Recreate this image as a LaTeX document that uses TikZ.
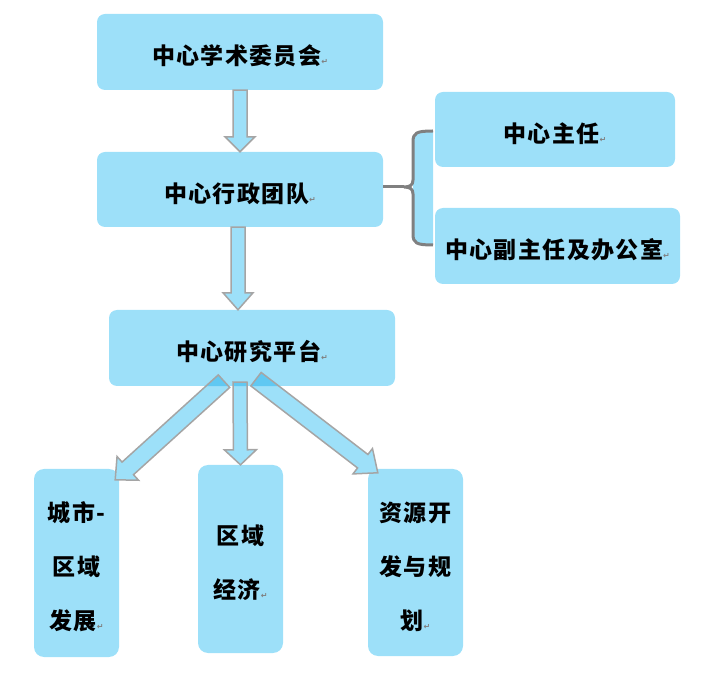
\documentclass[tikz,border=0pt]{standalone}
\usepackage{fontspec}
\usetikzlibrary{calc}
\newfontfamily\cjk{Noto Sans CJK SC}[LetterSpace=6]
\newfontfamily\dv{DejaVu Sans}
\definecolor{boxblue}{RGB}{157,224,249}
\definecolor{darkblue}{RGB}{96,200,242}
\definecolor{arrgray}{RGB}{165,165,165}
\definecolor{bracegray}{RGB}{128,128,128}
\newcommand\ret{{\dv\fontsize{8}{8}\selectfont\color{gray}↵}}
\newcommand\dn[1]{\raisebox{-4pt}[\height][\depth]{#1}}
\newcommand\defarrow[6]{%
 \coordinate (#1-s) at (#2);
 \coordinate (#1-t) at (#3);
 \coordinate (#1-h) at ($(#1-t)!#6!(#1-s)$);
 \coordinate (#1-1) at ($(#1-s)!#4!90:(#1-t)$);
 \coordinate (#1-2) at ($(#1-h)!#4!90:(#1-t)$);
 \coordinate (#1-3) at ($(#1-h)!#5!90:(#1-t)$);
 \coordinate (#1-4) at ($(#1-h)!#5!-90:(#1-t)$);
 \coordinate (#1-5) at ($(#1-h)!#4!-90:(#1-t)$);
 \coordinate (#1-6) at ($(#1-s)!#4!-90:(#1-t)$);
}
\newcommand\pathArrow[2]{\path[#2] (#1-1) -- (#1-2) -- (#1-3) -- (#1-t) -- (#1-4) -- (#1-5) -- (#1-6) -- cycle;}
\begin{document}
\begin{tikzpicture}[x=1pt,y=-1pt,
  box/.style={fill=boxblue, rounded corners=8pt, inner sep=0pt,
    font=\cjk\bfseries\fontsize{23}{23}\selectfont},
  vbox/.style={box, rounded corners=10pt, align=center,
    font=\cjk\bfseries\fontsize{23}{54}\selectfont},
  arrfill/.style={fill=boxblue},
  arrdark/.style={fill=darkblue},
  arrdraw/.style={draw=arrgray, line width=1.5pt, line join=miter}]
\path[use as bounding box] (0,0) rectangle (702,684);

% boxes
\node[box, minimum width=286pt, minimum height=76pt] (b1) at (240,52) {\dn{中心学术委员会\ret}};
\node[box, minimum width=286pt, minimum height=75pt] (b2) at (240,189.5) {\dn{中心行政团队\ret}};
\node[box, minimum width=286pt, minimum height=76pt] (b3) at (252,348) {\dn{中心研究平台\ret}};
\node[box, minimum width=240pt, minimum height=75pt] (r1) at (555,129.5) {\dn{中心主任\ret}};
\node[box, minimum width=245pt, minimum height=76pt] (r2) at (557.5,246) {\dn{中心副主任及办公室\ret}};
\node[vbox, minimum width=85pt, minimum height=188pt] (c1) at (76.5,563) {\dn{城市-}\\\dn{区域}\\\dn{发展\ret}};
\node[vbox, minimum width=85pt, minimum height=188pt] (c2) at (240.5,559) {\dn{区域}\\\dn{经济\ret}};
\node[vbox, minimum width=95pt, minimum height=187pt] (c3) at (415.5,562.5) {\dn{资源开}\\\dn{发与规}\\\dn{划\ret}};

% brace
\coordinate (br) at (404,187);
\fill[boxblue] (433,131) .. controls (416,131) and (413,133) .. (413,142) -- (413,234) .. controls (413,243) and (416,245) .. (433,245) -- cycle;
\draw[bracegray, line width=3pt] (b2.east |- br) -- (br);
\draw[bracegray, line width=3pt] (433,131) .. controls (416,131) and (413,133) .. (413,142) -- (413,180) .. controls (413,185) and (410,187) .. (br) .. controls (410,187) and (413,189) .. (413,194) -- (413,234) .. controls (413,243) and (416,245) .. (433,245);

% block arrows
\defarrow{a1}{b1.south}{b2.north}{7pt}{15pt}{15pt}
\defarrow{a2}{$(b2.south)+(-2,0)$}{$(b3.north)+(-14,0)$}{7pt}{15pt}{17pt}
\defarrow{a3}{$(b3.south)+(-12,-4)$}{c2.north}{7pt}{16pt}{15pt}
\defarrow{a4}{$(b3.south)+(-28,-5)$}{$(c1.north east)+(-4,11)$}{8.5pt}{16pt}{17pt}
\defarrow{a5}{$(b3.south)+(4,-7)$}{$(c3.north west)+(10,4)$}{8.5pt}{16pt}{19pt}

\foreach \a in {a1,a2,a3,a4,a5}{\pathArrow{\a}{arrfill}}
\begin{scope}
  \clip[rounded corners=8pt] (b3.south west) rectangle (b3.north east);
  \foreach \a in {a3,a4,a5}{\pathArrow{\a}{arrdark}}
\end{scope}
\foreach \a in {a1,a2,a3,a4,a5}{\pathArrow{\a}{arrdraw}}
\end{tikzpicture}
\end{document}
